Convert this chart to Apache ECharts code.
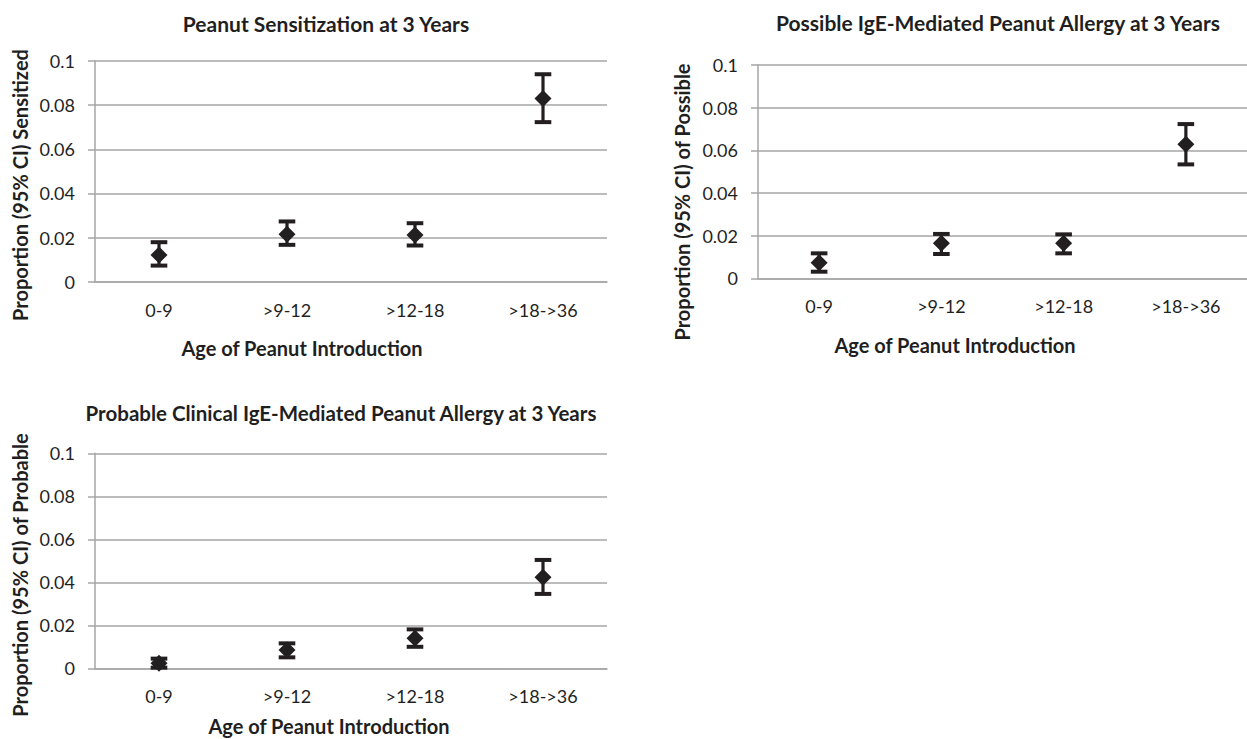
<!DOCTYPE html>
<html>
<head>
<meta charset="utf-8">
<script src="https://cdn.jsdelivr.net/npm/echarts@6/dist/echarts.min.js"></script>
<style>
html,body{margin:0;padding:0;background:#fff;}
#chart{width:1247px;height:739px;}
</style>
</head>
<body>
<div id="chart"></div>
<script>
// ---- data ----
const categories = ['0-9', '>9-12', '>12-18', '>18->36'];
const yTicks = [0, 0.02, 0.04, 0.06, 0.08, 0.1];

const sensitized     = [0.0121, 0.0215, 0.0212, 0.0830];
const sensitizedLow  = [0.0073, 0.0167, 0.0164, 0.0723];
const sensitizedHigh = [0.0179, 0.0273, 0.0265, 0.0940];

const possible     = [0.0073, 0.0164, 0.0164, 0.0628];
const possibleLow  = [0.0031, 0.0114, 0.0117, 0.0534];
const possibleHigh = [0.0117, 0.0208, 0.0206, 0.0723];

const probable     = [0.0023, 0.0085, 0.0140, 0.0423];
const probableLow  = [0.0003, 0.0051, 0.0100, 0.0346];
const probableHigh = [0.0045, 0.0116, 0.0181, 0.0504];

const titles = [
  'Peanut Sensitization at 3 Years',
  'Possible IgE-Mediated Peanut Allergy at 3 Years',
  'Probable Clinical IgE-Mediated Peanut Allergy at 3 Years'
];
const yTitles = [
  'Proportion (95% CI) Sensitized',
  'Proportion (95% CI) of Possible',
  'Proportion (95% CI) of Probable'
];
const xTitle = 'Age of Peanut Introduction';

// ---- styles ----
const FONT = 'Lato';
const INK = '#231f20';
const GRID = '#a6a6a6';
const TEXT = '#1f1f1f';

const panels = [
  { mid: sensitized, low: sensitizedLow, high: sensitizedHigh,
    grid: { left: 95, top: 61, width: 512, height: 220.7 },
    title: [326, 23], titleSize: 21, xt: [302, 348], yt: [20, 185] },
  { mid: possible, low: possibleLow, high: possibleHigh,
    grid: { left: 758, top: 65, width: 499, height: 213.3 },
    title: [998, 22], titleSize: 21, xt: [955, 345], yt: [682, 202] },
  { mid: probable, low: probableLow, high: probableHigh,
    grid: { left: 95, top: 453.3, width: 512, height: 215 },
    title: [341, 413], titleSize: 20.5, xt: [329, 726], yt: [20, 575] }
];

const chart = echarts.init(document.getElementById('chart'), null, { renderer: 'svg' });

const grids = [], xAxes = [], yAxes = [], series = [], graphics = [];

panels.forEach((p, i) => {
  grids.push(Object.assign({ containLabel: false }, p.grid));
  xAxes.push({
    type: 'category', gridIndex: i, data: categories,
    axisLine: { lineStyle: { color: GRID, width: 1.5 } },
    axisTick: { show: false },
    axisLabel: { color: TEXT, fontFamily: FONT, fontSize: 18, margin: 19 },
    splitLine: { show: false }
  });
  yAxes.push({
    type: 'value', gridIndex: i, min: yTicks[0], max: yTicks[yTicks.length - 1],
    interval: yTicks[1] - yTicks[0],
    axisLine: { show: true, lineStyle: { color: GRID, width: 1.5 } },
    axisTick: { show: true, length: 7, lineStyle: { color: GRID, width: 1.5 } },
    axisLabel: { color: TEXT, fontFamily: FONT, fontSize: 18, margin: 20 },
    splitLine: { show: true, lineStyle: { color: GRID, width: 1.5 } }
  });
  series.push({
    type: 'custom', xAxisIndex: i, yAxisIndex: i, z: 3,
    data: categories.map((c, k) => [k, p.low[k], p.high[k]]),
    renderItem: function (params, api) {
      const x = api.value(0);
      const lo = api.coord([x, api.value(1)]);
      const hi = api.coord([x, api.value(2)]);
      const hw = 8.3;
      const st = { stroke: INK, lineWidth: 3.2 };
      const cap = { stroke: INK, lineWidth: 4 };
      return {
        type: 'group',
        children: [
          { type: 'line', shape: { x1: lo[0], y1: lo[1], x2: hi[0], y2: hi[1] }, style: st },
          { type: 'line', shape: { x1: lo[0] - hw, y1: lo[1], x2: lo[0] + hw, y2: lo[1] }, style: cap },
          { type: 'line', shape: { x1: hi[0] - hw, y1: hi[1], x2: hi[0] + hw, y2: hi[1] }, style: cap }
        ]
      };
    }
  });
  series.push({
    type: 'scatter', xAxisIndex: i, yAxisIndex: i, z: 4,
    symbol: 'diamond', symbolSize: [17, 17],
    itemStyle: { color: INK, opacity: 1 },
    data: p.mid
  });
  graphics.push({
    type: 'text', x: p.title[0], y: p.title[1],
    style: { text: titles[i], fill: TEXT, font: 'bold ' + p.titleSize + 'px ' + FONT, textAlign: 'center', textVerticalAlign: 'middle' }
  });
  graphics.push({
    type: 'text', x: p.xt[0], y: p.xt[1],
    style: { text: xTitle, fill: TEXT, font: 'bold 20px ' + FONT, textAlign: 'center', textVerticalAlign: 'middle' }
  });
  graphics.push({
    type: 'text', x: p.yt[0], y: p.yt[1], rotation: Math.PI / 2,
    style: { text: yTitles[i], fill: TEXT, font: 'bold 20px ' + FONT, textAlign: 'center', textVerticalAlign: 'middle' }
  });
});

chart.setOption({
  animation: false,
  backgroundColor: '#ffffff',
  grid: grids,
  xAxis: xAxes,
  yAxis: yAxes,
  series: series,
  graphic: graphics
});
</script>
</body>
</html>
